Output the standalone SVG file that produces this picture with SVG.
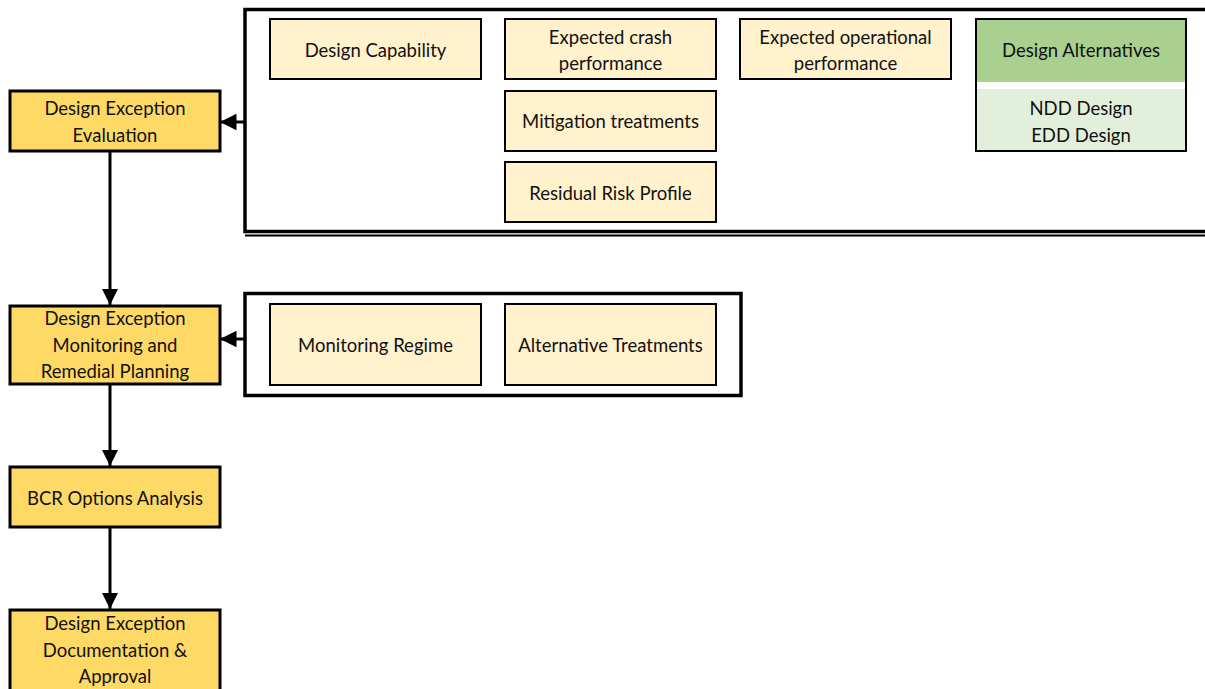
<svg xmlns="http://www.w3.org/2000/svg" width="1205" height="689" viewBox="0 0 1205 689">
<defs>
<style>
text{font-family:Lato,"Liberation Sans",sans-serif;font-size:18.5px;fill:#111;text-anchor:middle}
.main rect{fill:#FFD966;stroke:#000;stroke-width:3}
.sub rect{fill:#FFF2CC;stroke:#000;stroke-width:2}
.wire{stroke:#000;stroke-width:3;fill:none}
.frame{fill:none;stroke:#000;stroke-width:3.5}
</style>
<marker id="ah" viewBox="0 0 10 10" refX="10" refY="5" markerWidth="5.5" markerHeight="5.5" markerUnits="strokeWidth" orient="auto">
<path d="M0,0 L10,5 L0,10 z" fill="#000"/>
</marker>
</defs>
<rect width="1205" height="689" fill="#fff"/>

<g id="frames">
<path class="frame" d="M1210,9.5 H245 V231.5 H1210"/>
<line x1="245" y1="235.5" x2="1210" y2="235.5" stroke="#000" stroke-width="2"/>
<rect class="frame" x="245" y="293.5" width="496" height="102"/>
</g>

<g id="connectors">
<line class="wire" x1="110" y1="151" x2="110" y2="305" marker-end="url(#ah)"/>
<line class="wire" x1="110" y1="384" x2="110" y2="466" marker-end="url(#ah)"/>
<line class="wire" x1="110" y1="527" x2="110" y2="609" marker-end="url(#ah)"/>
<line class="wire" x1="245" y1="122" x2="220" y2="122" marker-end="url(#ah)"/>
<line class="wire" x1="245" y1="339" x2="220" y2="339" marker-end="url(#ah)"/>
</g>

<g id="n-eval" class="main">
<rect x="10" y="91" width="210" height="60"/>
<text x="115" y="115">Design Exception</text>
<text x="115" y="142">Evaluation</text>
</g>
<g id="n-monitor" class="main">
<rect x="10" y="306" width="210" height="78"/>
<text x="115" y="325">Design Exception</text>
<text x="115" y="352">Monitoring and</text>
<text x="115" y="378">Remedial Planning</text>
</g>
<g id="n-bcr" class="main">
<rect x="10" y="467" width="210" height="60"/>
<text x="115" y="505">BCR Options Analysis</text>
</g>
<g id="n-doc" class="main">
<rect x="10" y="610" width="210" height="82"/>
<text x="115" y="630">Design Exception</text>
<text x="115" y="657">Documentation &amp;</text>
<text x="115" y="683">Approval</text>
</g>

<g id="n-capability" class="sub">
<rect x="270" y="19" width="211" height="60"/>
<text x="375.5" y="57">Design Capability</text>
</g>
<g id="n-crash" class="sub">
<rect x="505" y="19" width="211" height="60"/>
<text x="610.5" y="44">Expected crash</text>
<text x="610.5" y="70">performance</text>
</g>
<g id="n-operational" class="sub">
<rect x="740" y="19" width="211" height="60"/>
<text x="845.5" y="44">Expected operational</text>
<text x="845.5" y="70">performance</text>
</g>
<g id="n-mitigation" class="sub">
<rect x="505" y="91" width="211" height="60"/>
<text x="610.5" y="128">Mitigation treatments</text>
</g>
<g id="n-residual" class="sub">
<rect x="505" y="162" width="211" height="60"/>
<text x="610.5" y="200">Residual Risk Profile</text>
</g>
<g id="n-alternatives">
<rect x="976" y="19" width="210" height="63" fill="#A9D08E"/>
<rect x="976" y="89" width="210" height="62" fill="#E2EFDA"/>
<rect x="976" y="19" width="210" height="132" fill="none" stroke="#000" stroke-width="2"/>
<text x="1081" y="57">Design Alternatives</text>
<text x="1081" y="115">NDD Design</text>
<text x="1081" y="142">EDD Design</text>
</g>
<g id="n-regime" class="sub">
<rect x="270" y="304" width="211" height="81"/>
<text x="375.5" y="352">Monitoring Regime</text>
</g>
<g id="n-alttreat" class="sub">
<rect x="505" y="304" width="211" height="81"/>
<text x="610.5" y="352">Alternative Treatments</text>
</g>
</svg>
